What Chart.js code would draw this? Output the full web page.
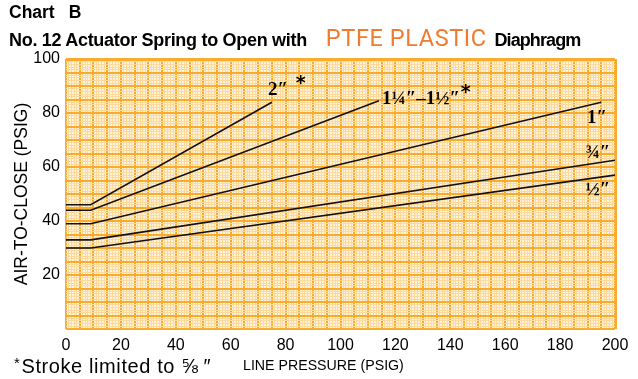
<!DOCTYPE html>
<html>
<head>
<meta charset="utf-8">
<script src="https://cdn.jsdelivr.net/npm/chart.js@4"></script>
<style>
  body { margin: 0; background: #fff; }
  #wrap { position: relative; width: 638px; height: 379px; font-family: "Liberation Sans", Arial, sans-serif; }
  #chart { position: absolute; left: 0; top: 0; }
  .head { position: absolute; left: 9px; font-weight: bold; color: #000; white-space: nowrap; }
  #head1 { top: 2px; font-size: 17.5px; }
  #head1 b { margin-left: 14px; }
  #head2 { top: 24px; font-size: 18px; letter-spacing: -0.3px; }
  .ptfe { font-family: "Liberation Sans Narrow", "Roboto", sans-serif; font-weight: normal; color: #f07a2e; font-size: 23.5px; letter-spacing: 0.6px; margin-left: 19px; margin-right: 3px; }
  .dia { letter-spacing: -0.9px; }
  .foot { position: absolute; color: #000; white-space: nowrap; }
  #note { left: 14px; top: 351px; font-size: 20px; letter-spacing: 0.6px; }
  #note sup { font-size: 15px; position: relative; top: 3px; margin-right: 1px; }
  #note .in { margin-left: 5px; }
  #xtitle { left: 243px; font-size: 14.2px; top: 357px; }
</style>
</head>
<body>
<div id="wrap">
  <canvas id="chart" width="638" height="379"></canvas>
  <div class="head" id="head1">Chart<b>B</b></div>
  <div class="head" id="head2">No. 12 Actuator Spring to Open with<span class="ptfe">PTFE PLASTIC</span> <span class="dia">Diaphragm</span></div>
  <div class="foot" id="note"><sup>*</sup>Stroke limited to ⅝<span class="in">″</span></div>
  <div class="foot" id="xtitle">LINE PRESSURE (PSIG)</div>
</div>
<script>
"use strict";

// diaphragm sizes, one curve each
const sizes = ["½″", "¾″", "1″", "1¼″–1½″", "2″"];
// line pressure where every curve leaves its flat start
const kneePressure = 9;
// line pressure at the end of each curve
const endPressure = [200, 200, 195, 114, 75];
// air-to-close at zero line pressure
const startAir = [30, 33, 39, 44, 46];
// air-to-close at the end of each curve
const endAir = [57, 62.5, 84, 84.5, 84];

const xTicks = [0, 20, 40, 60, 80, 100, 120, 140, 160, 180, 200];
const yTicks = [20, 40, 60, 80, 100];

// where each size name sits, in chart units
const labelSpots = [
  { x: 193.8, y: 51.6 },
  { x: 193.8, y: 65 },
  { x: 193.4, y: 78 },
  { x: 129.3, y: 85 },
  { x: 77.2, y: 88.6 },
];
// asterisks for the stroke-limited sizes
const starSpots = [
  { x: 145.6, y: 87.4 },
  { x: 85.5, y: 90.6 },
];

const paperBg = "#fff3dc";
const paperMinor = "#fdd99c";
const paperMajor = "#f9ab2e";

const datasets = sizes.map((name, i) => ({
  label: name,
  data: [
    { x: 0, y: startAir[i] },
    { x: kneePressure, y: startAir[i] },
    { x: endPressure[i], y: endAir[i] },
  ],
  showLine: true,
  borderColor: "#111",
  borderWidth: 1.6,
  pointRadius: 0,
  tension: 0,
}));

const gridColor = (ctx) => (ctx.tick.value % 5 === 0 ? paperMajor : paperMinor);
const gridWidth = (edge) => (ctx) => {
  const v = ctx.tick.value;
  if (v === edge) return 3;
  if (v % 5 === 0) return 2;
  return 1;
};

const paperPlugin = {
  id: "paper",
  beforeDraw(chart) {
    const { ctx, chartArea: a } = chart;
    ctx.save();
    ctx.fillStyle = paperBg;
    ctx.fillRect(a.left, a.top, a.right - a.left, a.bottom - a.top);
    ctx.restore();
  },
};

const sizeLabelPlugin = {
  id: "sizeLabels",
  afterDatasetsDraw(chart) {
    const { ctx, scales } = chart;
    ctx.save();
    ctx.fillStyle = "#000";
    ctx.textAlign = "center";
    ctx.textBaseline = "middle";
    ctx.font = "bold 19px 'Liberation Serif', serif";
    sizes.forEach((name, i) => {
      const p = labelSpots[i];
      ctx.fillText(name, scales.x.getPixelForValue(p.x), scales.y.getPixelForValue(p.y));
    });
    ctx.font = "bold 19px 'DejaVu Sans', sans-serif";
    starSpots.forEach((p) => {
      ctx.fillText("*", scales.x.getPixelForValue(p.x), scales.y.getPixelForValue(p.y));
    });
    ctx.restore();
  },
};

const tickFont = { family: "'Liberation Sans', Arial, sans-serif", size: 16 };

new Chart(document.getElementById("chart"), {
  type: "scatter",
  data: { datasets },
  plugins: [paperPlugin, sizeLabelPlugin],
  options: {
    responsive: false,
    animation: false,
    layout: { padding: { top: 59, right: 23, bottom: 0, left: 0 } },
    plugins: {
      legend: { display: false },
      tooltip: { enabled: false },
    },
    scales: {
      x: {
        type: "linear",
        min: 0,
        max: 200,
        afterFit: (s) => { s.height = 50; },
        ticks: {
          stepSize: 1,
          autoSkip: false,
          maxRotation: 0,
          padding: 7,
          color: "#000",
          font: tickFont,
          callback: (v) => (xTicks.includes(v) ? String(v) : ""),
        },
        grid: { color: gridColor, lineWidth: gridWidth(200), drawTicks: false },
        border: { display: false },
      },
      y: {
        type: "linear",
        min: 0,
        max: 100,
        afterFit: (s) => { s.width = 66; },
        ticks: {
          stepSize: 1,
          autoSkip: false,
          padding: 6,
          color: "#000",
          font: tickFont,
          callback: (v) => (yTicks.includes(v) ? String(v) : ""),
        },
        grid: { color: gridColor, lineWidth: gridWidth(100), drawTicks: false },
        border: { display: false },
        title: {
          display: true,
          text: "AIR-TO-CLOSE (PSIG)",
          color: "#000",
          font: { family: "'Liberation Sans', Arial, sans-serif", size: 17.5 },
          padding: { top: 12, bottom: 0 },
        },
      },
    },
  },
});
</script>
</body>
</html>
